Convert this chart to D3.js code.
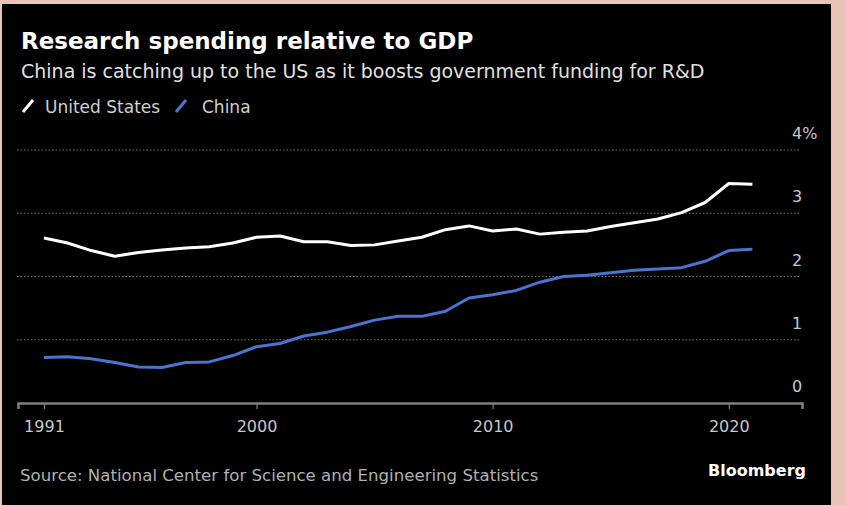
<!DOCTYPE html>
<html>
<head>
<meta charset="utf-8">
<script src="https://cdn.jsdelivr.net/npm/d3@7"></script>
<style>
  html, body { margin: 0; padding: 0; background: #e7c4b6; }
  svg { display: block; font-family: "DejaVu Sans", sans-serif; }
</style>
</head>
<body>
<svg width="846" height="505"></svg>
<script>
// **** Data ****
const years = d3.range(1991, 2022);
const usValues = [2.61, 2.53, 2.41, 2.32, 2.38, 2.42, 2.45, 2.47, 2.53, 2.62,
                  2.64, 2.55, 2.55, 2.49, 2.50, 2.56, 2.62, 2.74, 2.80, 2.72,
                  2.75, 2.67, 2.70, 2.72, 2.79, 2.85, 2.91, 3.01, 3.17, 3.47, 3.46];
const chinaValues = [0.72, 0.73, 0.70, 0.64, 0.57, 0.56, 0.64, 0.65, 0.75, 0.89,
                     0.94, 1.06, 1.12, 1.21, 1.31, 1.37, 1.37, 1.45, 1.66, 1.71,
                     1.78, 1.91, 2.00, 2.02, 2.06, 2.10, 2.12, 2.14, 2.24, 2.41, 2.43];
const yearTicks = [1991, 2000, 2010, 2020];
const valueTicks = [0, 1, 2, 3, 4];
const seriesNames = ['United States', 'China'];
const seriesColors = ['#ffffff', '#4a74cf'];

// **** Scales ****
const svg = d3.select('svg');

const xScale = d3.scaleLinear()
    .domain([1989.9, 2023.1]).range([18, 802]);

const yScale = d3.scaleLinear()
    .domain([0, 4]).range([403, 150]);

// background panel
svg.append('rect')
    .attr('x', 2).attr('y', 4)
    .attr('width', 829).attr('height', 501)
    .attr('fill', '#000');

// **** Gridlines and value labels ****
svg.selectAll('.grid')
    .data(valueTicks.filter(d => d > 0))
    .enter().append('line')
    .attr('class', 'grid')
    .attr('x1', 17).attr('x2', 800)
    .attr('y1', d => yScale(d)).attr('y2', d => yScale(d))
    .attr('stroke', '#777')
    .attr('stroke-width', 1)
    .attr('stroke-dasharray', '1.5,2');

svg.selectAll('.ylabel')
    .data(valueTicks)
    .enter().append('text')
    .attr('class', 'ylabel')
    .attr('x', 792)
    .attr('y', d => yScale(d) - 11)
    .attr('fill', '#c8c8c8')
    .style('font-size', '16px')
    .text(d => d === 4 ? d + '%' : d);

// **** X axis ****
const xAxis = svg.append('g')
    .attr('transform', 'translate(0,403)')
    .call(d3.axisBottom(xScale)
        .tickValues(yearTicks)
        .tickFormat(d3.format('d'))
        .tickSizeOuter(0)
        .tickSize(6)
        .tickPadding(12));

xAxis.select('.domain').attr('stroke', '#808080').attr('stroke-width', 2.5);
xAxis.selectAll('.tick line').attr('stroke', '#808080').attr('stroke-width', 1.2);
xAxis.selectAll('.tick text')
    .attr('fill', '#c8c8c8')
    .style('font-size', '16px')
    .style('font-family', '"DejaVu Sans", sans-serif');

// **** Lines ****
const line = d3.line()
    .x((d, i) => xScale(years[i]))
    .y(d => yScale(d));

[usValues, chinaValues].forEach((values, i) => {
    svg.append('path')
        .datum(values)
        .attr('d', line)
        .attr('fill', 'none')
        .attr('stroke', seriesColors[i])
        .attr('stroke-width', 3)
        .attr('stroke-linejoin', 'round');
});

// **** Title, legend, footer ****
svg.append('text')
    .attr('x', 21).attr('y', 49)
    .attr('fill', '#fff')
    .style('font-size', '23px').style('font-weight', 'bold')
    .text('Research spending relative to GDP');

svg.append('text')
    .attr('x', 21).attr('y', 78)
    .attr('fill', '#e0e0e0')
    .style('font-size', '19px')
    .text('China is catching up to the US as it boosts government funding for R&D');

const legendX = [22, 175];
seriesNames.forEach((name, i) => {
    const g = svg.append('g').attr('transform', `translate(${legendX[i]},0)`);
    g.append('line')
        .attr('x1', 1).attr('y1', 112).attr('x2', 11).attr('y2', 100)
        .attr('stroke', seriesColors[i])
        .attr('stroke-width', 3);
    g.append('text')
        .attr('x', i === 0 ? 23 : 27).attr('y', 113)
        .attr('fill', '#d0d0d0')
        .style('font-size', '17px')
        .text(name);
});

svg.append('text')
    .attr('x', 20).attr('y', 481)
    .attr('fill', '#b0b0b0')
    .style('font-size', '16.6px')
    .text('Source: National Center for Science and Engineering Statistics');

svg.append('text')
    .attr('x', 806).attr('y', 476)
    .attr('text-anchor', 'end')
    .attr('fill', '#fff')
    .style('font-size', '16px').style('font-weight', 'bold')
    .text('Bloomberg');
</script>
</body>
</html>
